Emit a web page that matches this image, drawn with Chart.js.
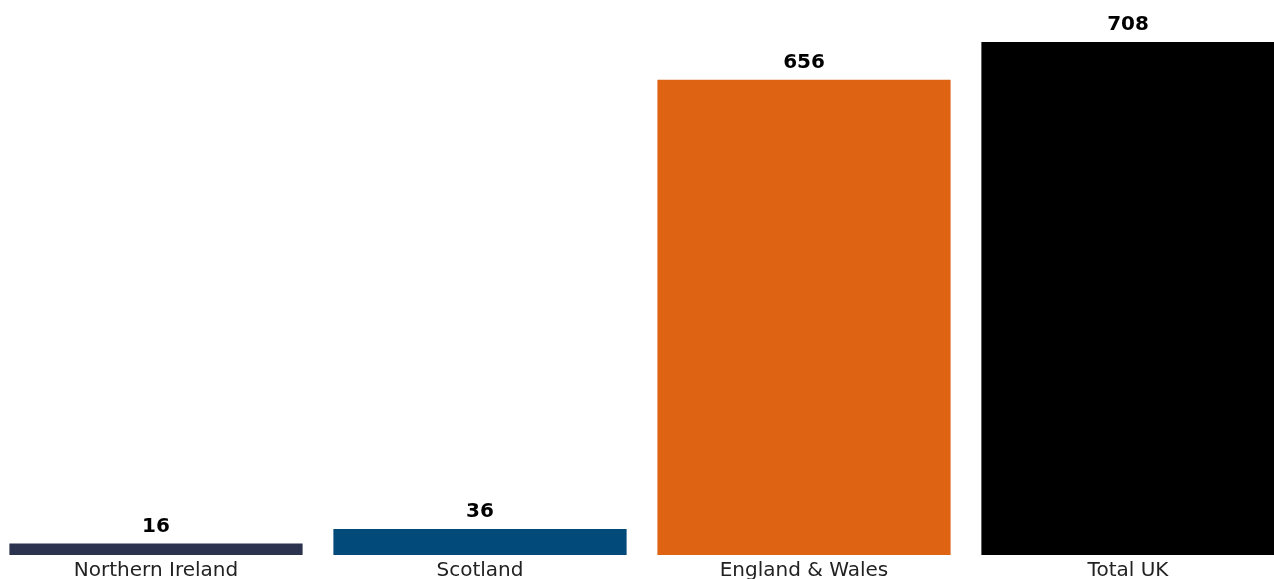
<!DOCTYPE html>
<html>
<head>
<meta charset="utf-8">
<script src="https://cdn.jsdelivr.net/npm/chart.js@4.4.0/dist/chart.umd.min.js"></script>
<style>
html,body{margin:0;padding:0;background:#fff;overflow:hidden;width:1274px;height:579px;}
#wrap{width:1296px;height:587px;position:absolute;left:-6px;top:0;}
</style>
</head>
<body>
<div id="wrap"><canvas id="c"></canvas></div>
<script>
const categories = ["Northern Ireland", "Scotland", "England & Wales", "Total UK"];
const values = [16, 36, 656, 708];
const barColors = ["#2b334f", "#014a7a", "#de6414", "#000000"];

const valueLabels = {
  id: 'valueLabels',
  afterDatasetsDraw(chart) {
    const ctx = chart.ctx;
    const meta = chart.getDatasetMeta(0);
    ctx.save();
    ctx.font = "bold 20px 'DejaVu Sans', sans-serif";
    ctx.fillStyle = "#000";
    ctx.textAlign = "center";
    ctx.textBaseline = "middle";
    meta.data.forEach((bar, i) => {
      ctx.fillText(String(values[i]), bar.x, bar.y - 17);
    });
    ctx.restore();
  }
};

new Chart(document.getElementById('c'), {
  type: 'bar',
  data: {
    labels: categories,
    datasets: [{
      data: values,
      backgroundColor: barColors,
      borderWidth: 0,
      barPercentage: 0.905,
      categoryPercentage: 1.0
    }]
  },
  options: {
    responsive: true,
    maintainAspectRatio: false,
    animation: false,
    layout: { padding: 0 },
    plugins: { legend: { display: false }, tooltip: { enabled: false } },
    scales: {
      x: {
        grid: { display: false, drawTicks: false },
        border: { display: false },
        ticks: { color: "#222", padding: 4, font: { family: "'DejaVu Sans', sans-serif", size: 20 } }
      },
      y: {
        display: false,
        min: 0,
        max: 766
      }
    }
  },
  plugins: [valueLabels]
});
</script>
</body>
</html>
